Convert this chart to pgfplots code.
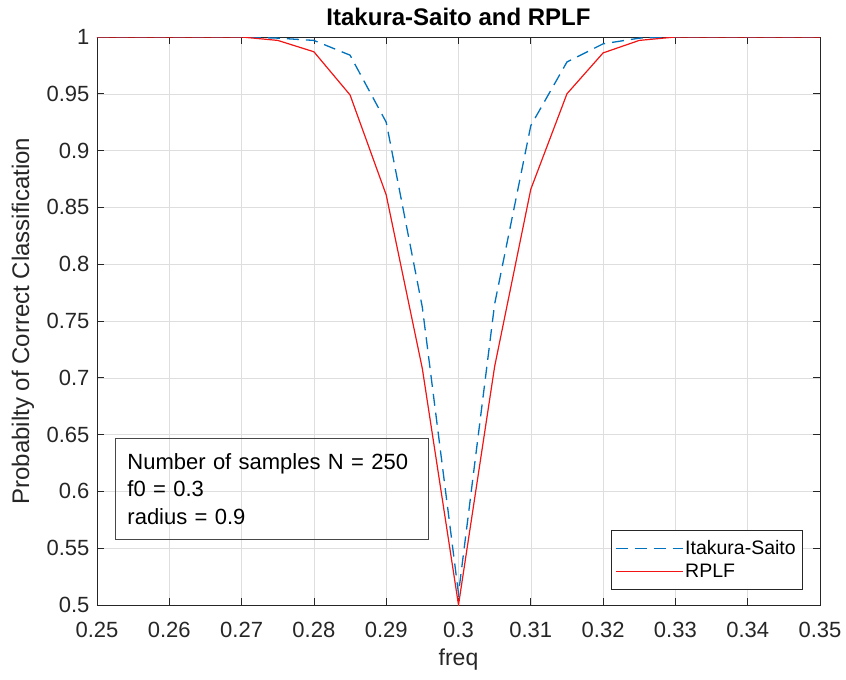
\documentclass[border=0pt]{standalone}
\usepackage{pgfplots}
\pgfplotsset{compat=1.18}
\usepackage{fontspec}
\setmainfont{Liberation Sans}
\definecolor{mblue}{rgb}{0,0.447,0.741}
\definecolor{mred}{rgb}{0.95,0.08,0.08}
\definecolor{axgray}{rgb}{0.15,0.15,0.15}
\begin{document}
\begin{tikzpicture}
\useasboundingbox (-97pt,-75pt) rectangle (749pt,605pt);
\begin{axis}[
  at={(0pt,0pt)}, anchor=south west,
  scale only axis, width=723pt, height=568pt,
  xmin=0.25, xmax=0.35, ymin=0.5, ymax=1,
  xtick={0.25,0.26,0.27,0.28,0.29,0.30,0.31,0.32,0.33,0.34,0.35},
  ytick={0.5,0.55,0.6,0.65,0.7,0.75,0.8,0.85,0.9,0.95,1},
  xticklabel style={/pgf/number format/fixed,/pgf/number format/precision=2,yshift=-14pt},
  yticklabel style={/pgf/number format/fixed,/pgf/number format/precision=2,xshift=-4pt},
  /pgf/number format/assume math mode=true,
  tick label style={font=\fontsize{22}{26}\selectfont, text=axgray},
  tick align=inside, xtick pos=both, ytick pos=both,
  major tick length=7pt,
  every tick/.style={axgray, line width=0.8pt},
  axis line style={axgray, line width=0.8pt},
  grid=major,
  major grid style={color=black!13, line width=0.6pt},
  every axis title shift=0pt,
  title={\textbf{Itakura-Saito and RPLF}},
  title style={font=\fontsize{24}{28}\selectfont, at={(axis description cs:0.5,1.0211)}, anchor=base, text=black},
  xlabel={freq},
  xlabel style={font=\fontsize{23}{27}\selectfont, at={(axis description cs:0.5,-0.0968)}, anchor=center, text=axgray},
  ylabel={Probabilty of Correct Classification},
  ylabel style={font=\fontsize{24}{27}\selectfont, at={(axis description cs:-0.1024,0.5)}, rotate=0, anchor=center, text=axgray},
  legend style={at={(rel axis cs:0.975,0.028)}, anchor=south east,
    font=\fontsize{19.5}{23}\selectfont, draw=axgray,
    inner xsep=4pt, inner ysep=8pt, row sep=4pt},
  legend cell align=left,
  legend image code/.code={\draw[#1] (0pt,0pt) -- (67pt,0pt);},
]
\addlegendimage{mblue, line width=1.3pt, dash pattern=on 12pt off 7pt}
\addlegendentry{Itakura-Saito}
\addlegendimage{mred, line width=1.2pt}
\addlegendentry{RPLF}
\addplot[forget plot, mblue, line width=1.3pt, dash pattern=on 12pt off 7pt] coordinates {
(0.250,1) (0.255,1) (0.260,1) (0.265,1) (0.270,1) (0.275,0.999)
(0.280,0.997) (0.285,0.984) (0.290,0.925) (0.295,0.762) (0.300,0.51)
(0.305,0.765) (0.310,0.922) (0.315,0.978) (0.320,0.994) (0.325,0.999)
(0.330,1) (0.335,1) (0.340,1) (0.345,1) (0.350,1)};
\addplot[forget plot, mred, line width=1.2pt] coordinates {
(0.250,1) (0.255,1) (0.260,1) (0.265,1) (0.270,1) (0.275,0.997)
(0.280,0.987) (0.285,0.949) (0.290,0.861) (0.295,0.708) (0.300,0.5)
(0.305,0.71) (0.310,0.866) (0.315,0.950) (0.320,0.986) (0.325,0.997)
(0.330,1) (0.335,1) (0.340,1) (0.345,1) (0.350,1)};
\node[draw=axgray!85, line width=0.9pt, anchor=south west, text width=289pt,
  inner xsep=12pt, inner ysep=0pt, minimum height=101pt, align=left,
  font=\fontsize{22}{27.5}\selectfont, text=black]
  at (rel axis cs:0.0249,0.1144) {Number of samples N = 250\\ f0 = 0.3\\ radius = 0.9};
\end{axis}
\end{tikzpicture}
\end{document}
